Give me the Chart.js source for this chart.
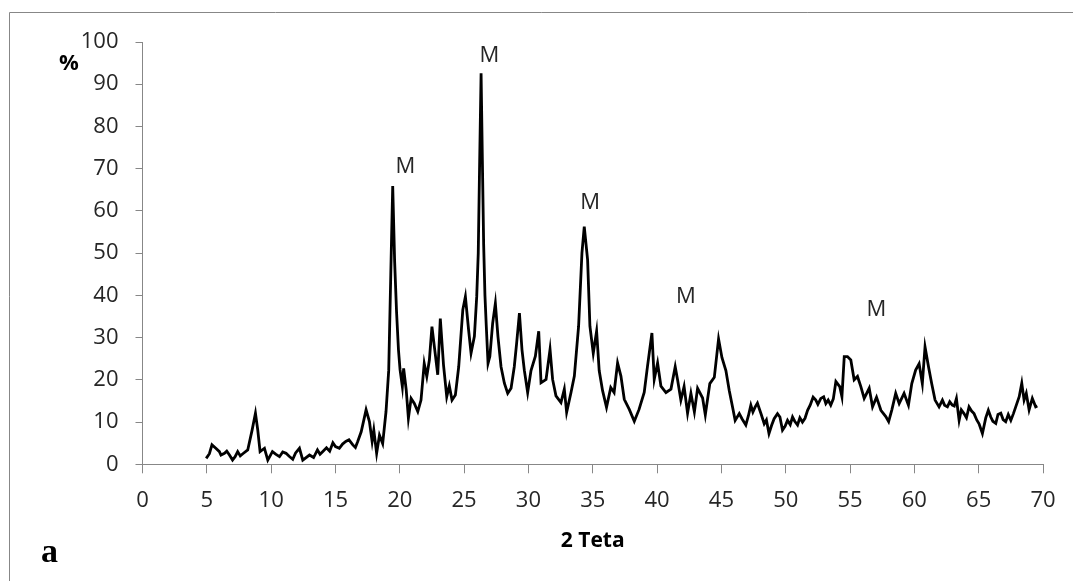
<!DOCTYPE html>
<html>
<head>
<meta charset="utf-8">
<script src="https://cdn.jsdelivr.net/npm/chart.js@4.4.1/dist/chart.umd.min.js"></script>
<style>
  body { margin: 0; background: #fff; }
  canvas { display: block; }
</style>
</head>
<body>
<canvas id="xrdChart" width="1073" height="581"></canvas>
<script>
// 2 theta positions and relative intensity (%)
const twoTheta = [
  4.95, 5.2, 5.4, 5.7, 5.98, 6.37, 6.76, 7.0, 7.4, 7.8, 8.18, 8.52, 8.78, 8.96, 9.14, 9.48, 9.74,
  10.1, 10.65, 11.16, 11.68, 12.2, 12.46, 12.98, 13.6, 14.0, 14.8, 15.3, 15.8, 16.35, 16.73, 17.0,
  17.38, 17.64, 17.85, 17.98, 18.2, 18.42, 18.67, 18.93, 19.14, 19.3, 19.45, 19.6, 19.75, 19.9,
  20.02, 20.2, 20.3, 20.5, 20.67, 20.88, 21.13, 21.4, 21.65, 21.9, 22.1, 22.3, 22.5, 22.69, 22.95,
  23.15, 23.4, 23.65, 23.85, 24.06, 24.32, 24.58, 24.9, 25.1, 25.35, 25.54, 25.8, 25.98, 26.1,
  26.2, 26.32, 26.42, 26.52, 26.62, 26.72, 26.86, 27.0, 27.22, 27.43, 27.63, 27.87, 28.13, 28.39,
  28.65, 28.9, 29.08, 29.3, 29.5, 29.68, 29.94, 30.2, 30.54, 30.8, 30.98, 31.37, 31.68, 31.88,
  32.14, 32.53, 32.79, 32.97, 33.31, 33.57, 33.9, 34.16, 34.34, 34.6, 34.78, 35.04, 35.3, 35.5,
  35.76, 36.07, 36.4, 36.66, 36.93, 37.19, 37.45, 37.84, 38.23, 38.6, 39.0, 39.26, 39.6, 39.78,
  40.04, 40.3, 40.69, 41.08, 41.41, 41.6, 41.85, 42.1, 42.37, 42.63, 42.9, 43.15, 43.54, 43.75,
  44.1, 44.45, 44.78, 45.04, 45.35, 45.61, 45.87, 46.07, 46.39, 46.9, 47.29, 47.63, 47.94, 48.33,
  48.7, 49.1, 49.36, 49.75, 50.14, 50.53, 50.92, 51.3, 51.7, 52.13, 52.34, 52.73, 53.12, 53.5,
  53.9, 54.2, 54.37, 54.55, 54.8, 55.06, 55.32, 55.58, 55.84, 56.1, 56.49, 56.75, 57.06, 57.4,
  57.78, 58.0, 58.25, 58.55, 58.82, 59.2, 59.54, 59.8, 60.1, 60.37, 60.62, 60.83, 61.1, 61.35,
  61.61, 61.92, 62.18, 62.57, 62.95, 63.27, 63.48, 63.86, 64.25, 64.64, 65.03, 65.29, 65.55,
  65.94, 66.33, 66.72, 67.1, 67.5, 67.88, 68.15, 68.35, 68.53, 68.7, 68.92, 69.17, 69.43, 69.56
];
const intensity = [
  1.4, 2.5, 4.6, 3.8, 3.0, 2.6, 2.2, 1.0, 3.0, 2.5, 3.4, 8.1, 12.1, 8.1, 3.0, 3.8, 1.0,
  3.0, 1.8, 2.6, 1.2, 3.8, 1.0, 2.2, 3.4, 3.0, 5.1, 3.8, 5.4, 4.6, 5.4, 7.7,
  12.9, 10.1, 5.4, 8.1, 2.6, 6.9, 4.9, 12.5, 22.3, 45, 65.9, 48, 36, 27,
  22.4, 18.4, 22.7, 17.6, 10.9, 15.6, 14.4, 12.5, 15.2, 23.9, 20.8, 24.7, 32.6, 27.8, 21.2,
  34.5, 23.5, 16.0, 18.6, 15.2, 16.4, 23.1, 36.6, 39.7, 31.8, 26.3, 30.3, 39.7, 50,
  70, 92.6, 72, 52, 40, 33, 23.9, 25.5, 33.4, 38.1, 30.3, 23.1, 19.2, 16.8,
  18.0, 23.1, 28.6, 35.8, 27.1, 22.3, 17.0, 22.2, 25.6, 31.5, 19.3, 20.1, 27.2, 20.1,
  16.2, 14.6, 17.8, 12.3, 17.0, 20.9, 32.7, 50.0, 56.3, 48.4, 32.7, 26.3, 31.5, 22.2,
  17.5, 13.5, 18.2, 17.0, 24.0, 20.9, 15.4, 13.0, 10.2, 13.0, 17.0, 23.3, 31.1, 20.1,
  24.0, 18.5, 17.0, 17.8, 23.1, 19.9, 15.2, 18.4, 12.1, 16.8, 12.4, 18.0, 15.7, 11.7,
  19.1, 20.6, 29.7, 25.3, 22.2, 17.5, 13.5, 10.4, 12.0, 9.3, 14.0, 13.6, 13.2, 9.6,
  7.3, 10.8, 12.0, 8.1, 10.4, 11.2, 9.3, 10.0, 12.8, 15.9, 15.2, 15.6, 14.4, 14.0,
  19.6, 18.4, 16.0, 25.5, 25.5, 24.7, 20.0, 20.8, 18.4, 15.6, 18.0, 13.6, 15.9, 12.8,
  11.3, 10.1, 12.9, 16.8, 14.4, 16.8, 14.0, 19.1, 22.3, 23.8, 19.1, 27.8, 23.1, 19.1,
  15.2, 13.6, 15.2, 13.6, 14.0, 15.6, 10.4, 12.0, 13.6, 12.0, 9.6, 7.3, 11.0,
  11.2, 9.7, 12.1, 10.1, 10.4, 13.6, 16.0, 19.2, 15.2, 16.8, 12.9, 15.6, 13.6, 13.8
];

// extra readings in the noisy low stretches
const twoThetaFine = [
  6.1, 6.55, 7.2, 7.6, 10.35, 10.9, 11.4, 11.9, 13.3, 13.8, 14.3, 14.55, 15.0, 15.55, 16.05, 16.55,
  46.6, 47.1, 47.45, 47.8, 48.1, 48.5, 48.9, 49.55, 49.95, 50.35, 50.7, 51.1, 51.5, 51.9, 52.5,
  52.95, 53.3, 53.7, 62.35, 62.75, 63.1, 63.65, 64.05, 64.45, 64.85, 65.75, 66.1, 66.5, 66.9,
  67.3, 67.7
];
const intensityFine = [
  2.2, 3.1, 1.8, 2.0, 2.4, 2.9, 1.9, 2.7, 1.6, 2.4, 3.9, 3.1, 4.2, 4.8, 5.8, 4.0,
  10.8, 11.5, 12.4, 14.5, 11.8, 10.5, 9.2, 11.2, 9.0, 9.4, 10.2, 11.0, 10.9, 14.0, 14.2,
  16.0, 15.2, 15.5, 14.0, 14.8, 13.8, 12.9, 11.0, 12.6, 10.5, 12.8, 10.2, 11.8, 10.6,
  11.8, 12.0
];

// "M" peak markers: [2 theta, % position of the label]
const peakLabels = [
  [20.43, 70.4],
  [26.96, 96.75],
  [34.8, 62.0],
  [42.25, 39.7],
  [57.05, 36.6]
];

const axisGray = "#878787";
const textColor = "#262626";

const points = twoTheta.map((x, i) => ({ x, y: intensity[i] }))
  .concat(twoThetaFine.map((x, i) => ({ x, y: intensityFine[i] })))
  .sort((a, b) => a.x - b.x);

const annotate = {
  id: "annotate",
  afterDraw(chart) {
    const { ctx, scales } = chart;
    ctx.save();

    // outer frame (left and top edges only are visible)
    ctx.strokeStyle = axisGray;
    ctx.lineWidth = 1;
    ctx.beginPath();
    ctx.moveTo(9.5, 581);
    ctx.lineTo(9.5, 12.5);
    ctx.lineTo(1073, 12.5);
    ctx.stroke();

    ctx.fillStyle = textColor;
    ctx.textAlign = "center";
    ctx.textBaseline = "middle";
    ctx.font = "22px 'Open Sans'";
    peakLabels.forEach(([x, y]) => {
      ctx.fillText("M", scales.x.getPixelForValue(x), scales.y.getPixelForValue(y));
    });

    ctx.fillStyle = "#000";
    ctx.font = "bold 22px 'Open Sans'";
    ctx.fillText("%", 69, 64);

    ctx.textAlign = "left";
    ctx.textBaseline = "alphabetic";
    ctx.font = "bold 34px 'Liberation Serif'";
    ctx.fillText("a", 41, 562);
    ctx.restore();
  }
};

new Chart(document.getElementById("xrdChart"), {
  type: "line",
  data: {
    datasets: [
      {
        data: points,
        borderColor: "#000",
        borderWidth: 2.8,
        pointRadius: 0,
        tension: 0,
        fill: false
      }
    ]
  },
  options: {
    responsive: false,
    animation: false,
    layout: { padding: { left: 0, top: 42, right: 30, bottom: 0 } },
    plugins: {
      legend: { display: false },
      tooltip: { enabled: false }
    },
    scales: {
      x: {
        type: "linear",
        min: 0,
        max: 70,
        afterFit: (scale) => { scale.height = 116.7; },
        ticks: {
          stepSize: 5,
          padding: 14,
          color: textColor,
          font: { family: "'Open Sans'", size: 22 }
        },
        grid: { drawOnChartArea: false, drawTicks: true, tickLength: 9, color: axisGray },
        border: { color: axisGray, width: 1 },
        title: {
          display: true,
          text: "2 Teta",
          color: "#000",
          font: { family: "'Open Sans'", size: 21, weight: "bold" },
          padding: { top: 0, bottom: 27 }
        }
      },
      y: {
        min: 0,
        max: 100,
        afterFit: (scale) => { scale.width = 142.5; },
        ticks: {
          stepSize: 10,
          padding: 17,
          color: textColor,
          font: { family: "'Open Sans'", size: 22 }
        },
        grid: { drawOnChartArea: false, drawTicks: true, tickLength: 7, color: axisGray },
        border: { color: axisGray, width: 1 }
      }
    }
  },
  plugins: [annotate]
});
</script>
</body>
</html>
